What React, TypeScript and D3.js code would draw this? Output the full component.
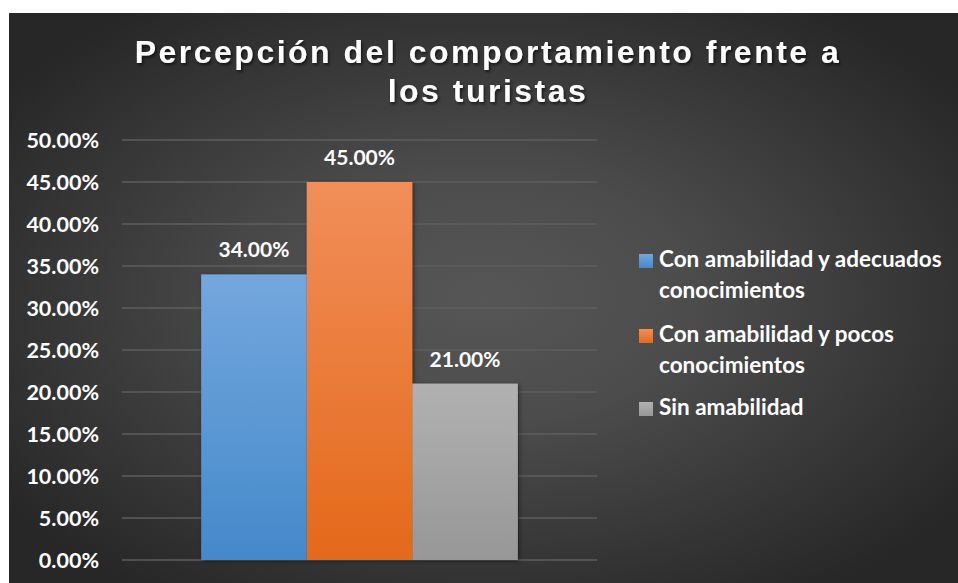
import React from "react";
import * as d3 from "d3";

const titleLines = ["Percepción del comportamiento frente a", "los turistas"];
const seriesNames = [
  "Con amabilidad y adecuados conocimientos",
  "Con amabilidad y pocos conocimientos",
  "Sin amabilidad",
];
const legendLines = [
  ["Con amabilidad y adecuados", "conocimientos"],
  ["Con amabilidad y pocos", "conocimientos"],
  ["Sin amabilidad"],
];
const seriesValues = [0.34, 0.45, 0.21];
const yTicks = [0, 0.05, 0.1, 0.15, 0.2, 0.25, 0.3, 0.35, 0.4, 0.45, 0.5];
const gradTop = ["#74a7dd", "#f18e5a", "#b1b1b1"];
const gradBottom = ["#4489cb", "#e4691a", "#979797"];

const W = 958;
const H = 583;
const plot = { left: 122, right: 597, top: 140, bottom: 560 };
const labelFont = "Lato, 'Open Sans', sans-serif";

export default function App() {
  const y = d3.scaleLinear().domain([0, 0.5]).range([plot.bottom, plot.top]);
  const plotW = plot.right - plot.left;
  const groupW = (plotW * 3) / 4.5;
  const groupX0 = plot.left + (plotW - groupW) / 2;
  const x = d3
    .scaleBand<string>()
    .domain(seriesNames)
    .range([groupX0, groupX0 + groupW])
    .padding(0);
  const fmt = (v: number) => (v * 100).toFixed(2) + "%";
  const legendBase = [267, 342, 415];
  const legendLineGap = 31;

  return (
    <svg
      width={W}
      height={H}
      style={{ position: "absolute", left: 0, top: 0 }}
      viewBox={`0 0 ${W} ${H}`}
    >
      <defs>
        <radialGradient id="bg" cx="0.5" cy="0.5" r="0.62">
          <stop offset="0" stopColor="#565656" />
          <stop offset="0.35" stopColor="#4c4c4c" />
          <stop offset="1" stopColor="#272727" />
        </radialGradient>
        {seriesNames.map((_, i) => (
          <linearGradient key={i} id={`g${i}`} x1="0" y1="0" x2="0" y2="1">
            <stop offset="0" stopColor={gradTop[i]} />
            <stop offset="1" stopColor={gradBottom[i]} />
          </linearGradient>
        ))}
        <filter id="ts" x="-5%" y="-20%" width="110%" height="150%">
          <feDropShadow dx="1.5" dy="2" stdDeviation="1.5" floodColor="#000" floodOpacity="0.6" />
        </filter>
        <filter id="bs" x="-10%" y="-10%" width="120%" height="120%">
          <feDropShadow dx="1.5" dy="1" stdDeviation="2" floodColor="#000" floodOpacity="0.45" />
        </filter>
      </defs>
      <rect x={0} y={0} width={W} height={H} fill="#ffffff" />
      <rect x={9} y={13} width={W - 9} height={H - 13} fill="url(#bg)" />

      {/* title */}
      {titleLines.map((t, i) => (
        <text
          key={i}
          x={488}
          y={63 + i * 39}
          textAnchor="middle"
          fill="#ffffff"
          fontFamily="'Liberation Sans', Arial, sans-serif"
          fontWeight="bold"
          fontSize={32}
          letterSpacing={2.5}
          filter="url(#ts)"
        >
          {t}
        </text>
      ))}

      {/* gridlines */}
      {yTicks.map((t, i) => (
        <line
          key={i}
          x1={plot.left}
          x2={plot.right}
          y1={y(t)}
          y2={y(t)}
          stroke="#5e5e5e"
          strokeWidth={1.5}
        />
      ))}

      {/* y tick labels */}
      {yTicks.map((t, i) => (
        <text
          key={i}
          x={99}
          y={y(t) + 8}
          textAnchor="end"
          fill="#ffffff"
          fontFamily={labelFont}
          fontWeight="bold"
          fontSize={21.5}
        >
          {fmt(t)}
        </text>
      ))}

      {/* bars */}
      <g filter="url(#bs)">
        {seriesNames.map((s, i) => (
          <rect
            key={s}
            x={x(s)!}
            y={y(seriesValues[i])}
            width={x.bandwidth()}
            height={y(0) - y(seriesValues[i])}
            fill={`url(#g${i})`}
          />
        ))}
      </g>

      {/* data labels */}
      {seriesNames.map((s, i) => (
        <text
          key={s}
          x={x(s)! + x.bandwidth() / 2}
          y={y(seriesValues[i]) - 17}
          textAnchor="middle"
          fill="#ffffff"
          fontFamily={labelFont}
          fontWeight="bold"
          fontSize={21}
        >
          {fmt(seriesValues[i])}
        </text>
      ))}

      {/* legend */}
      {legendLines.map((lines, i) => (
        <g key={i}>
          <rect
            x={639}
            y={legendBase[i] - 13}
            width={14}
            height={14}
            fill={`url(#g${i})`}
          />
          {lines.map((l, j) => (
            <text
              key={j}
              x={659}
              y={legendBase[i] + j * legendLineGap}
              fill="#ffffff"
              fontFamily={labelFont}
              fontWeight="bold"
              fontSize={22.5}
            >
              {l}
            </text>
          ))}
        </g>
      ))}
    </svg>
  );
}
